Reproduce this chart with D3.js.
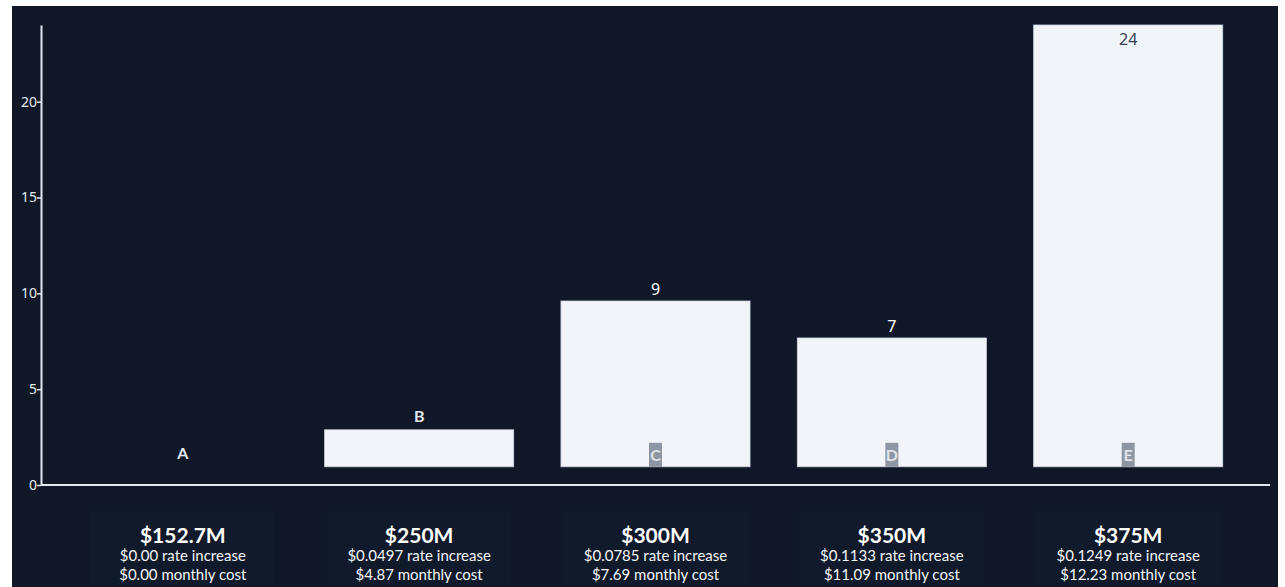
<!DOCTYPE html>
<html>
<head>
<meta charset="utf-8">
<script src="https://cdn.jsdelivr.net/npm/d3@7"></script>
<style>
html,body{margin:0;padding:0;background:#ffffff;}
svg{display:block;}
</style>
</head>
<body>
<svg id="chart" width="1285" height="587"></svg>
<script>
// ---- data ----
const categories = ["A", "B", "C", "D", "E"];
const barTops = [0.95, 2.88, 9.6, 7.67, 24];
const barBase = 0.95;
const valueLabels = ["", "", "9", "7", "24"];
const amounts = ["$152.7M", "$250M", "$300M", "$350M", "$375M"];
const rateIncrease = ["$0.00 rate increase", "$0.0497 rate increase", "$0.0785 rate increase", "$0.1133 rate increase", "$0.1249 rate increase"];
const monthlyCost = ["$0.00 monthly cost", "$4.87 monthly cost", "$7.69 monthly cost", "$11.09 monthly cost", "$12.23 monthly cost"];
const yTicks = [0, 5, 10, 15, 20];

// ---- layout ----
const svg = d3.select("#chart");
svg.append("rect").attr("x", 12).attr("y", 6).attr("width", 1266).attr("height", 581).attr("fill", "#101828");

const x = d3.scaleBand().domain(categories).range([41, 1270]).paddingInner(0.2).paddingOuter(0.2);
const y = d3.scaleLinear().domain([0, 24]).range([485, 25]);

// y axis
const yAxis = svg.append("g").attr("transform", "translate(41,0)")
  .call(d3.axisLeft(y).tickValues(yTicks).tickSize(4).tickSizeOuter(0));
yAxis.select(".domain").attr("stroke", "#e2e8f0").attr("stroke-width", 2);
yAxis.selectAll(".tick line").attr("stroke", "#e2e8f0").attr("stroke-width", 1.5);
yAxis.selectAll(".tick text").attr("fill", "#e2e8f0").attr("font-family", "'Noto Sans', sans-serif").attr("font-size", 14).attr("x", -4);

// x axis line
svg.append("line").attr("x1", 41).attr("x2", 1270).attr("y1", y(0)).attr("y2", y(0))
  .attr("stroke", "#e2e8f0").attr("stroke-width", 2);

const data = categories.map((c, i) => ({c, top: barTops[i], label: valueLabels[i], i}));

// bars
svg.selectAll("rect.bar").data(data.filter(d => d.top > barBase)).join("rect")
  .attr("class", "bar")
  .attr("x", d => x(d.c)).attr("width", x.bandwidth())
  .attr("y", d => y(d.top)).attr("height", d => y(barBase) - y(d.top))
  .attr("fill", "#f1f5f9").attr("stroke", "#cbd5e1").attr("stroke-width", 0.8);

// value labels
data.forEach(d => {
  if (!d.label) return;
  const cx = x(d.c) + x.bandwidth() / 2;
  const inside = d.top >= 20;
  svg.append("text").attr("x", cx)
    .attr("y", inside ? y(d.top) + 20 : y(d.top) - 6)
    .attr("text-anchor", "middle")
    .attr("font-family", "'Noto Sans', sans-serif").attr("font-size", 16)
    .attr("fill", inside ? "#334155" : "#ffffff").text(d.label);
});

// category letters
data.forEach(d => {
  const cx = x(d.c) + x.bandwidth() / 2;
  const hBar = y(barBase) - y(d.top);
  if (hBar > 40) {
    svg.append("rect").attr("x", cx - 6.5).attr("y", y(barBase) - 24).attr("width", 13).attr("height", 24).attr("fill", "#8e96a3");
    svg.append("text").attr("x", cx).attr("y", y(barBase) - 6).attr("text-anchor", "middle")
      .attr("font-family", "Lato, sans-serif").attr("font-weight", 700).attr("font-size", 16)
      .attr("fill", "#dfe3ea").text(d.c);
  } else {
    svg.append("text").attr("x", cx).attr("y", y(d.top) - 8).attr("text-anchor", "middle")
      .attr("font-family", "Lato, sans-serif").attr("font-weight", 700).attr("font-size", 16)
      .attr("fill", "#e2e8f0").text(d.c);
  }
});

// bottom labels
categories.forEach((c, i) => {
  const cx = x(c) + x.bandwidth() / 2;
  const g = svg.append("g");
  g.append("rect").attr("x", cx - 92).attr("y", 511).attr("width", 184).attr("height", 76).attr("fill", "#111a2b");
  g.append("text").attr("x", cx).attr("y", 543).attr("text-anchor", "middle")
    .attr("font-family", "Lato, sans-serif").attr("font-weight", 700).attr("font-size", 21)
    .attr("fill", "#ffffff").text(amounts[i]);
  g.append("text").attr("x", cx).attr("y", 561).attr("text-anchor", "middle")
    .attr("font-family", "Lato, sans-serif").attr("font-size", 15)
    .attr("fill", "#f1f5f9").text(rateIncrease[i]);
  g.append("text").attr("x", cx).attr("y", 580).attr("text-anchor", "middle")
    .attr("font-family", "Lato, sans-serif").attr("font-size", 15)
    .attr("fill", "#f1f5f9").text(monthlyCost[i]);
});
</script>
</body>
</html>
